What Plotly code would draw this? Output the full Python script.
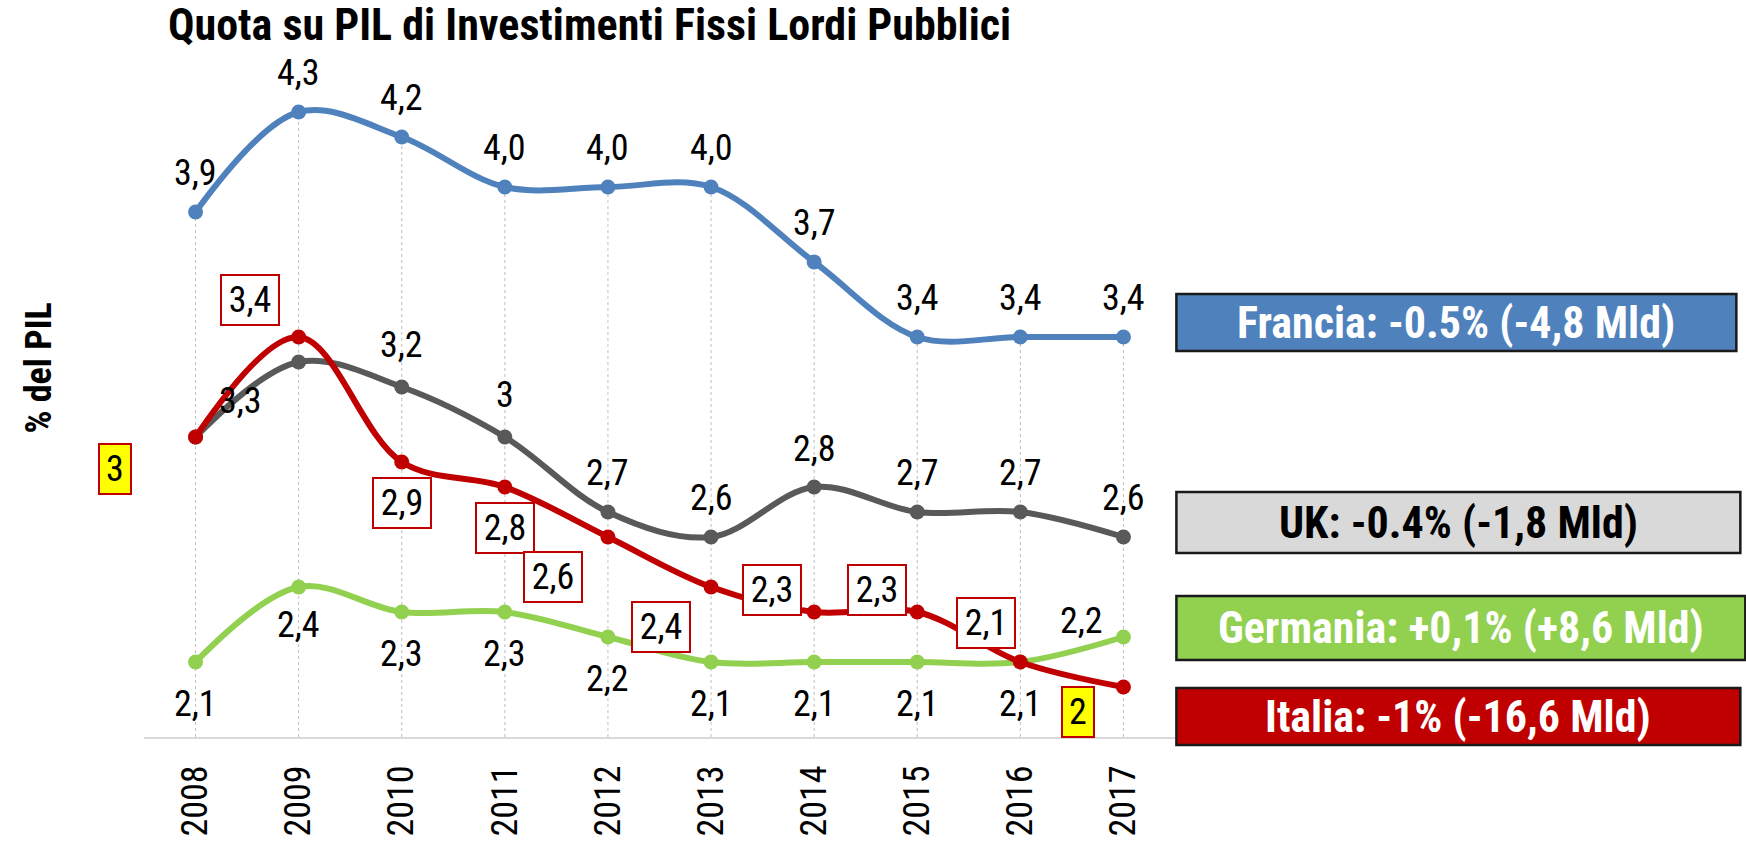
import plotly.graph_objects as go

# ---------------- data ----------------
YEARS = ["2008", "2009", "2010", "2011", "2012", "2013", "2014", "2015", "2016", "2017"]
FRANCIA = [3.9, 4.3, 4.2, 4.0, 4.0, 4.0, 3.7, 3.4, 3.4, 3.4]
UK = [3.0, 3.3, 3.2, 3.0, 2.7, 2.6, 2.8, 2.7, 2.7, 2.6]
GERMANIA = [2.1, 2.4, 2.3, 2.3, 2.2, 2.1, 2.1, 2.1, 2.1, 2.2]
ITALIA = [3.0, 3.4, 2.9, 2.8, 2.6, 2.4, 2.3, 2.3, 2.1, 2.0]

TITLE = "Quota su PIL di Investimenti Fissi Lordi Pubblici"
Y_TITLE = "% del PIL"
BOX_TEXTS = ["Francia: -0.5% (-4,8 Mld)", "UK: -0.4% (-1,8 Mld)",
             "Germania: +0,1% (+8,6 Mld)", "Italia: -1% (-16,6 Mld)"]

# ---------------- layout / style ----------------
W, H = 1746, 841
ML, MR, MT, MB = 143.5, 1746 - 1174.6, 62, 841 - 737
PW, PH = W - ML - MR, H - MT - MB
Y_RANGE = [1.8, 4.5]

C_FR, C_UK, C_DE, C_IT = "#4F81BD", "#595959", "#92D050", "#C00000"
NARROW = "'Arial Narrow', 'Liberation Sans Narrow', 'Roboto Condensed', 'Archivo Narrow', sans-serif"
FS_LAB = 36

def px_x(px):
    return (px - ML) / PW

def px_y(py):
    return (H - MB - py) / PH

def fmt_fixed(v):
    return f"{v:.1f}".replace(".", ",")

def fmt_gen(v):
    return ("%g" % v).replace(".", ",")

# label pixel offsets (dx, dy; dy positive = down on screen); None = no label
OFF_FR = [(0, -39)] * 10
OFF_UK = [None, (-58, 39), (0, -42), (0, -42), (0, -39), (0, -39), (0, -38), (0, -39), (0, -39), (0, -39)]
OFF_DE = [(0, 42), (0, 38), (0, 42), (0, 42), (0, 42), (0, 42), (0, 42), (0, 42), (0, 42), (-42, -16)]
OFF_IT = [(-81, 32), (-49, -37), (0, 41), (0, 41), (-55, 40), (-50, 40), (-42, -22), (-40, -22), (-34, -39), (-45, 25)]
IT_BG = ["#FFFF00", "white", "white", "white", "white", "white", "white", "white", "white", "#FFFF00"]

fig = go.Figure()

# drop lines
for i in range(len(YEARS)):
    top = max(FRANCIA[i], UK[i], GERMANIA[i], ITALIA[i])
    fig.add_shape(type="line", xref="x", yref="y", x0=i, x1=i, y0=Y_RANGE[0], y1=top,
                  line=dict(color="#BFBFBF", width=1, dash="dot"), layer="below")

for name, vals, col in [("Francia", FRANCIA, C_FR), ("UK", UK, C_UK),
                        ("Germania", GERMANIA, C_DE), ("Italia", ITALIA, C_IT)]:
    fig.add_trace(go.Scatter(
        x=YEARS, y=vals, name=name, mode="lines+markers",
        line=dict(color=col, width=6, shape="spline", smoothing=1.0),
        marker=dict(color=col, size=15),
        hoverinfo="x+y+name",
    ))

# data labels
for vals, offs, fmt in [(FRANCIA, OFF_FR, fmt_fixed), (UK, OFF_UK, fmt_gen), (GERMANIA, OFF_DE, fmt_fixed)]:
    for i in range(len(YEARS)):
        if offs[i] is None:
            continue
        dx, dy = offs[i]
        fig.add_annotation(x=i, y=vals[i], xref="x", yref="y", text=fmt(vals[i]),
                           showarrow=False, xshift=dx, yshift=-dy,
                           font=dict(family=NARROW, size=FS_LAB, color="black"))

for i in range(len(YEARS)):
    dx, dy = OFF_IT[i]
    txt = fmt_gen(ITALIA[i])
    fig.add_annotation(x=i, y=ITALIA[i], xref="x", yref="y", text=txt,
                       showarrow=False, xshift=dx, yshift=-dy,
                       width=(56 if len(txt) > 1 else 30), height=48,
                       bgcolor=IT_BG[i], bordercolor=C_IT, borderwidth=2, borderpad=0,
                       font=dict(family=NARROW, size=FS_LAB, color="black"))

# title
fig.add_annotation(text=f"<b>{TITLE}</b>", xref="paper", yref="paper",
                   x=px_x(166), y=px_y(25), xanchor="left", yanchor="middle", showarrow=False,
                   font=dict(family=NARROW, size=44, color="black"))
# y title
fig.add_annotation(text=f"<b>{Y_TITLE}</b>", xref="paper", yref="paper",
                   x=px_x(38), y=px_y(368), xanchor="center", yanchor="middle", showarrow=False,
                   textangle=-90, font=dict(family=NARROW, size=36, color="black"))

# legend boxes
BOXES = [  # x0, x1, y0, y1 (pixels), fill, text color
    (1176, 1736, 294, 351, C_FR, "white"),
    (1176, 1740, 492, 553, "#D9D9D9", "black"),
    (1176, 1745, 596, 660, C_DE, "white"),
    (1176, 1740, 688, 745, C_IT, "white"),
]
for (x0, x1, y0, y1, fill, tc), txt in zip(BOXES, BOX_TEXTS):
    fig.add_shape(type="rect", xref="paper", yref="paper",
                  x0=px_x(x0), x1=px_x(x1), y0=px_y(y1), y1=px_y(y0),
                  fillcolor=fill, line=dict(color="#1A1A1A", width=2.5))
    fig.add_annotation(text=f"<b>{txt}</b>", xref="paper", yref="paper",
                       x=px_x((x0 + x1) / 2), y=px_y((y0 + y1) / 2), xanchor="center", yanchor="middle",
                       showarrow=False, font=dict(family=NARROW, size=44, color=tc))

fig.update_layout(
    width=W, height=H, autosize=False,
    margin=dict(l=ML, r=MR, t=MT, b=MB, pad=0, autoexpand=False),
    paper_bgcolor="white", plot_bgcolor="white",
    showlegend=False,
    xaxis=dict(type="category", range=[-0.5, 9.5], showgrid=False, zeroline=False,
               showline=True, linecolor="#D9D9D9", linewidth=2, automargin=False,
               ticks="", tickangle=-90, ticklabelstandoff=12,
               tickfont=dict(family=NARROW, size=36, color="black")),
    yaxis=dict(range=Y_RANGE, showgrid=False, zeroline=False, showline=False, automargin=False,
               showticklabels=False, ticks=""),
)

fig.write_html("out.html", config={"displayModeBar": False},
               post_script="document.body.style.margin='0';document.body.style.overflow='hidden';")
